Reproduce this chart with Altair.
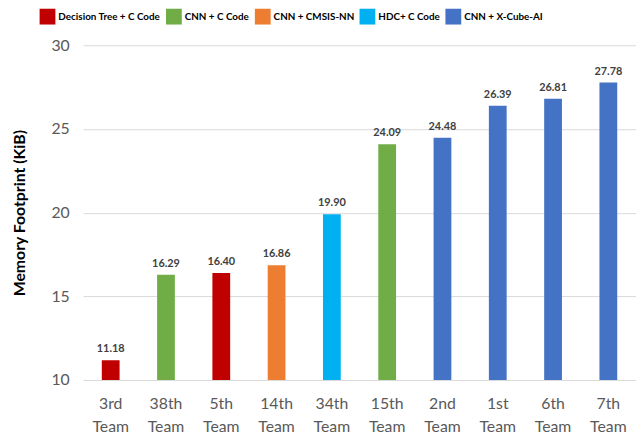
import altair as alt
import pandas as pd

teams = ["3rd Team", "38th Team", "5th Team", "14th Team", "34th Team",
         "15th Team", "2nd Team", "1st Team", "6th Team", "7th Team"]
values = [11.18, 16.29, 16.40, 16.86, 19.90, 24.09, 24.48, 26.39, 26.81, 27.78]
methods = ["Decision Tree + C Code", "CNN + C Code", "Decision Tree + C Code",
           "CNN + CMSIS-NN", "HDC+ C Code", "CNN + C Code", "CNN + X-Cube-AI",
           "CNN + X-Cube-AI", "CNN + X-Cube-AI", "CNN + X-Cube-AI"]
method_order = ["Decision Tree + C Code", "CNN + C Code", "CNN + CMSIS-NN",
                "HDC+ C Code", "CNN + X-Cube-AI"]
method_colors = ["#C00000", "#70AD47", "#ED7D31", "#00B0F0", "#4472C4"]

df = pd.DataFrame({"team": teams, "value": values, "method": methods})
df["label"] = [f"{v:.2f}" for v in values]

FONT = "Lato"

base = alt.Chart(df)

bars = base.mark_bar(size=18).encode(
    x=alt.X("team:N", sort=teams, title=None,
            axis=alt.Axis(labelExpr="split(datum.label, ' ')", labelAngle=0,
                          labelFontSize=16, labelColor="#595959", labelFont=FONT,
                          labelLineHeight=23, labelPadding=16, ticks=False,
                          domain=False, grid=False),
            scale=alt.Scale(paddingInner=0.68, paddingOuter=0.34)),
    y=alt.Y("value:Q", title="Memory Footprint (KiB)",
            scale=alt.Scale(domain=[10, 30], zero=False, nice=False),
            axis=alt.Axis(values=[10, 15, 20, 25, 30], labelFontSize=16,
                          labelColor="#595959", labelFont=FONT, ticks=False,
                          domain=False, gridColor="#D9D9D9", labelPadding=14,
                          titleFontSize=16, titleFont=FONT, titleFontWeight="bold",
                          titleColor="#000000", titlePadding=24)),
    y2=alt.datum(10),
    color=alt.Color("method:N",
                    scale=alt.Scale(domain=method_order, range=method_colors),
                    legend=alt.Legend(title=None, orient="none", direction="horizontal",
                                      legendX=-44, legendY=-37, symbolType="square",
                                      symbolSize=256, symbolStrokeWidth=0,
                                      labelFont=FONT, labelFontSize=10,
                                      labelFontWeight="bold", labelColor="#000000",
                                      columnPadding=5, labelOffset=3, padding=0,
                                      labelLimit=200)),
)

text = base.mark_text(baseline="bottom", dy=-6, fontSize=11, fontWeight="bold",
                      font=FONT, color="#404040").encode(
    x=alt.X("team:N", sort=teams),
    y=alt.Y("value:Q"),
    text="label:N",
)

chart = (bars + text).properties(
    width=560, height=339,
    autosize=alt.AutoSizeParams(type="none"),
    padding={"left": 76, "top": 35, "right": 0, "bottom": 57},
).configure_view(stroke=None)

chart.save("out.html", embed_options={"renderer": "svg", "actions": False})
